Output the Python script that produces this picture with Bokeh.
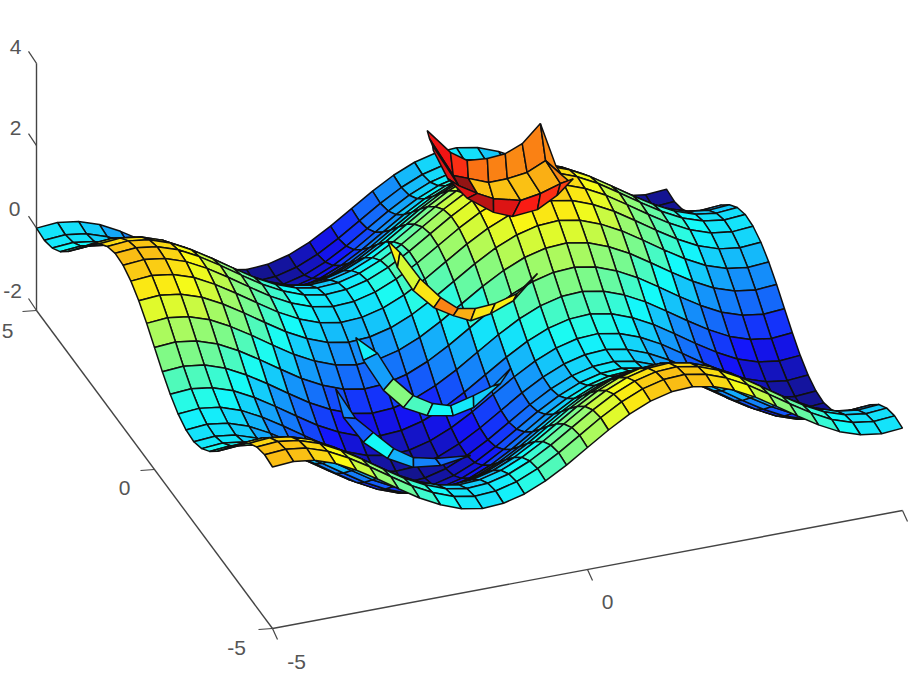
import numpy as np
from bokeh.plotting import figure
from bokeh.models import Range1d
from bokeh.core.properties import value
from bokeh.embed import file_html
from bokeh.resources import INLINE

# Height of the surface at each grid crossing, one row per y:
x_grid = [-5+k/3 for k in range(31)]
y_grid = [-5+k/3 for k in range(31)]
surface_z = [
[1.92,1.96,1.89,1.72,1.46,1.15,.82,.50,.24,.05,-.04,-.01,.12,.34,.63,.96,1.29,1.58,1.80,1.93,1.96,1.87,1.68,1.42,1.10,.77,.46,.20,.03,-.04,0],
[1.96,2.00,1.93,1.76,1.50,1.19,.86,.54,.28,.09,0,.03,.16,.38,.67,1.00,1.33,1.62,1.84,1.97,2.00,1.91,1.72,1.46,1.14,.81,.50,.24,.07,0,.04],
[1.89,1.93,1.86,1.69,1.43,1.12,.79,.47,.21,.02,-.07,-.04,.09,.31,.60,.93,1.26,1.55,1.77,1.90,1.93,1.84,1.65,1.39,1.07,.74,.43,.17,0,-.07,-.03],
[1.72,1.76,1.69,1.52,1.26,.95,.62,.30,.04,-.15,-.24,-.21,-.08,.14,.43,.76,1.09,1.38,1.60,1.73,1.76,1.67,1.48,1.22,.90,.57,.26,0,-.17,-.24,-.20],
[1.46,1.50,1.43,1.26,1.00,.69,.36,.04,-.22,-.41,-.50,-.47,-.34,-.12,.17,.50,.83,1.12,1.34,1.47,1.50,1.41,1.22,.96,.64,.31,0,-.26,-.43,-.50,-.46],
[1.15,1.19,1.12,.95,.69,.38,.05,-.27,-.53,-.72,-.81,-.78,-.65,-.43,-.14,.19,.52,.81,1.03,1.16,1.19,1.10,.91,.65,.33,0,-.31,-.57,-.74,-.81,-.77],
[.82,.86,.79,.62,.36,.05,-.28,-.60,-.86,-1.05,-1.14,-1.11,-.98,-.76,-.47,-.14,.19,.48,.70,.83,.86,.77,.58,.32,0,-.33,-.64,-.90,-1.07,-1.14,-1.10],
[.50,.54,.47,.30,.04,-.27,-.60,-.92,-1.18,-1.37,-1.46,-1.43,-1.30,-1.08,-.79,-.46,-.13,.16,.38,.51,.54,.45,.26,0,-.32,-.65,-.96,-1.22,-1.39,-1.46,-1.42],
[.24,.28,.21,.04,-.22,-.53,-.86,-1.18,-1.44,-1.63,-1.72,-1.69,-1.56,-1.34,-1.05,-.72,-.39,-.10,.12,.25,.28,.19,0,-.26,-.58,-.91,-1.22,-1.48,-1.65,-1.72,-1.68],
[.05,.09,.02,-.15,-.41,-.72,-1.05,-1.37,-1.63,-1.82,-1.91,-1.88,-1.75,-1.53,-1.24,-.91,-.58,-.29,-.07,.06,.09,0,-.19,-.45,-.77,-1.10,-1.41,-1.67,-1.84,-1.91,-1.87],
[-.04,0,-.07,-.24,-.50,-.81,-1.14,-1.46,-1.72,-1.91,-2.00,-1.97,-1.84,-1.62,-1.33,-1.00,-.67,-.38,-.16,-.03,0,-.09,-.28,-.54,-.86,-1.19,-1.50,-1.76,-1.93,-2.00,-1.96],
[-.01,.03,-.04,-.21,-.47,-.78,-1.11,-1.43,-1.69,-1.88,-1.97,-1.94,-1.81,-1.59,-1.30,-.97,-.64,-.35,-.13,0,.03,-.06,-.25,-.51,-.83,-1.16,-1.47,-1.73,-1.90,-1.97,-1.93],
[.12,.16,.09,-.08,-.34,-.65,-.98,-1.30,-1.56,-1.75,-1.84,-1.81,-1.68,-1.46,-1.17,-.84,-.51,-.22,0,.13,.16,.07,-.12,-.38,-.70,-1.03,-1.34,-1.60,-1.77,-1.84,-1.80],
[.34,.38,.31,.14,-.12,-.43,-.76,-1.08,-1.34,-1.53,-1.62,-1.59,-1.46,-1.24,-.95,-.62,-.29,0,.22,.35,.38,.29,.10,-.16,-.48,-.81,-1.12,-1.38,-1.55,-1.62,-1.58],
[.63,.67,.60,.43,.17,-.14,-.47,-.79,-1.05,-1.24,-1.33,-1.30,-1.17,-.95,-.66,-.33,0,.29,.51,.64,.67,.58,.39,.13,-.19,-.52,-.83,-1.09,-1.26,-1.33,-1.29],
[.96,1.00,.93,.76,.50,.19,-.14,-.46,-.72,-.91,-1.00,-.97,-.84,-.62,-.33,0,.33,.62,.84,.97,1.00,.91,.72,.46,.14,-.19,-.50,-.76,-.93,-1.00,-.96],
[1.29,1.33,1.26,1.09,.83,.52,.19,-.13,-.39,-.58,-.67,-.64,-.51,-.29,0,.33,.66,.95,1.17,1.30,1.33,1.24,1.05,.79,.47,.14,-.17,-.43,-.60,-.67,-.63],
[1.58,1.62,1.55,1.38,1.12,.81,.48,.16,-.10,-.29,-.38,-.35,-.22,0,.29,.62,.95,1.24,1.46,1.59,1.62,1.53,1.34,1.08,.76,.43,.12,-.14,-.31,-.38,-.34],
[1.80,1.84,1.77,1.60,1.34,1.03,.70,.38,.12,-.07,-.16,-.13,0,.22,.51,.84,1.17,1.46,1.68,1.81,1.84,1.75,1.56,1.30,.98,.65,.34,.08,-.09,-.16,-.12],
[1.93,1.97,1.90,1.73,1.47,1.16,.83,.51,.25,.06,-.03,0,.13,.35,.64,.97,1.30,1.59,1.81,1.94,1.97,1.88,1.69,1.43,1.11,.78,.47,.21,.04,-.03,.01],
[1.96,2.00,1.93,1.76,1.50,1.19,.86,.54,.28,.09,0,.03,.16,.38,.67,1.00,1.33,1.62,1.84,1.97,2.00,1.91,1.72,1.46,1.14,.81,.50,.24,.07,0,.04],
[1.87,1.91,1.84,1.67,1.41,1.10,.77,.45,.19,0,-.09,-.06,.07,.29,.58,.91,1.24,1.53,1.75,1.88,1.91,1.82,1.63,1.37,1.05,.72,.41,.15,-.02,-.09,-.05],
[1.68,1.72,1.65,1.48,1.22,.91,.58,.26,0,-.19,-.28,-.25,-.12,.10,.39,.72,1.05,1.34,1.56,1.69,1.72,1.63,1.44,1.18,.86,.53,.22,-.04,-.21,-.28,-.24],
[1.42,1.46,1.39,1.22,.96,.65,.32,0,-.26,-.45,-.54,-.51,-.38,-.16,.13,.46,.79,1.08,1.30,1.43,1.46,1.37,1.18,.92,.60,.27,-.04,-.30,-.47,-.54,-.50],
[1.10,1.14,1.07,.90,.64,.33,0,-.32,-.58,-.77,-.86,-.83,-.70,-.48,-.19,.14,.47,.76,.98,1.11,1.14,1.05,.86,.60,.28,-.05,-.36,-.62,-.79,-.86,-.82],
[.77,.81,.74,.57,.31,0,-.33,-.65,-.91,-1.10,-1.19,-1.16,-1.03,-.81,-.52,-.19,.14,.43,.65,.78,.81,.72,.53,.27,-.05,-.38,-.69,-.95,-1.12,-1.19,-1.15],
[.46,.50,.43,.26,0,-.31,-.64,-.96,-1.22,-1.41,-1.50,-1.47,-1.34,-1.12,-.83,-.50,-.17,.12,.34,.47,.50,.41,.22,-.04,-.36,-.69,-1.00,-1.26,-1.43,-1.50,-1.46],
[.20,.24,.17,0,-.26,-.57,-.90,-1.22,-1.48,-1.67,-1.76,-1.73,-1.60,-1.38,-1.09,-.76,-.43,-.14,.08,.21,.24,.15,-.04,-.30,-.62,-.95,-1.26,-1.52,-1.69,-1.76,-1.72],
[.03,.07,0,-.17,-.43,-.74,-1.07,-1.39,-1.65,-1.84,-1.93,-1.90,-1.77,-1.55,-1.26,-.93,-.60,-.31,-.09,.04,.07,-.02,-.21,-.47,-.79,-1.12,-1.43,-1.69,-1.86,-1.93,-1.89],
[-.04,0,-.07,-.24,-.50,-.81,-1.14,-1.46,-1.72,-1.91,-2.00,-1.97,-1.84,-1.62,-1.33,-1.00,-.67,-.38,-.16,-.03,0,-.09,-.28,-.54,-.86,-1.19,-1.50,-1.76,-1.93,-2.00,-1.96],
[0,.04,-.03,-.20,-.46,-.77,-1.10,-1.42,-1.68,-1.87,-1.96,-1.93,-1.80,-1.58,-1.29,-.96,-.63,-.34,-.12,.01,.04,-.05,-.24,-.50,-.82,-1.15,-1.46,-1.72,-1.89,-1.96,-1.92],
]

# The four crescents: small patches of surface, with their own height and cell colour values
cup_x = [[.43,.53,.68,.98,1.28,1.62,2.08,1.86],[.38,.33,.51,.75,1.05,1.39,1.77,1.85],[.35,.30,.48,.65,1.01,1.36,1.74,1.88],[.31,.22,.29,.51,.73,1.15,1.57,1.97]]
cup_y = [[2.94,2.22,1.91,1.86,1.90,2.09,2.55,1.31],[2.71,1.57,1.41,1.19,1.20,1.27,1.50,1.00],[2.50,1.26,.95,.72,.53,.62,.79,.83],[2.36,1.51,.86,.34,.13,.19,.48,.86]]
cup_c = [[3.14,2.92,2.49,2.32,2.27,2.32,2.27],[2.8,3.69,1.94,1.94,1.94,2.05,2.27],[3.25,3.25,3.47,3.25,3.03,2.92,2.8]]
cup_z = 2.4
yel_x = [[-.79,-.74,-.73,-.64,-.51,-.27,.06,.47,.96],[-.79,-.93,-.95,-.84,-.65,-.46,-.11,.34,.96]]
yel_y = [[1.36,.97,.14,-.49,-.88,-.97,-.93,-.77,-.32],[1.36,.57,-.15,-.73,-1.05,-1.28,-1.19,-.95,-.32]]
yel_c = [[1.67,1.4,1.72,2.38,2.05,1.72,1.67,1.4]]
yel_z = 1.3
blu_x = [[-1.64,-1.50,-1.54,-1.44,-1.25,-1.02,-.60,-.22,.20],[-1.64,-1.77,-1.80,-1.70,-1.45,-1.09,-.72,-.10,.20]]
blu_y = [[.44,-.11,-.89,-1.46,-1.78,-1.93,-1.77,-1.60,-1.21],[.44,-.23,-1.16,-1.74,-2.08,-2.22,-2.10,-1.58,-1.21]]
blu_c = [[.08,-.41,.85,.47,.14,.03,-.13,-.35]]
blu_z = -.1
low_x = [[-2.32,-2.35,-2.25,-2.13,-1.95,-1.65,-1.13],[-2.32,-2.51,-2.49,-2.32,-2.05,-1.65,-1.13]]
low_y = [[-.52,-1.45,-1.93,-2.48,-2.83,-2.97,-3.07],[-.52,-1.36,-2.15,-2.72,-3.10,-3.19,-3.07]]
low_c = [[-.63,-.9,.14,-.3,-.57,-.79]]
low_z = -.4

z_ticks = [-2,0,2,4]
y_ticks = [-5,0,5]
x_ticks = [-5,0,5]

def view(x,y,z):
    a=np.asarray(x)+5; b=5-np.asarray(y); zz=np.asarray(z)+2
    return 36+63*a+23.6*b, 310-11.8*a+31.8*b-41.2*zz

def jet(v):
    t=min(max((v+2.08)/5.9,0),1)
    r=min(max(min(4*t-1.5,-4*t+4.5),0),1); g=min(max(min(4*t-.5,-4*t+3.5),0),1); b=min(max(min(4*t+.5,-4*t+2.5),0),1)
    k=.08
    return "#%02x%02x%02x"%tuple(int((c*(1-k)+k)*255) if c<.5 else int(c*250) for c in (r,g,b))

p=figure(width=909,height=682,output_backend="svg",toolbar_location=None,x_range=Range1d(0,909),y_range=Range1d(682,0),min_border=0)
p.axis.visible=False; p.grid.visible=False; p.outline_line_color=None

def seg(a,b):
    sx,sy=view(*zip(a,b)); p.line(sx,sy,line_color="#444444",line_width=1.4)
seg((-5,5,-2),(-5,5,4)); seg((-5,5,-2),(-5,-5,-2)); seg((-5,-5,-2),(5,-5,-2))
for zv in z_ticks:
    sx,sy=view(-5,5,zv); p.line([sx,sx-8],[sy,sy-12],line_color="#444444",line_width=1.2)
for yv in y_ticks:
    sx,sy=view(-5,yv,-2); p.line([sx,sx-14],[sy,sy+1],line_color="#444444",line_width=1.2)
for xv in x_ticks:
    sx,sy=view(xv,-5,-2); p.line([sx,sx+5],[sy,sy+11],line_color="#444444",line_width=1.2)

lab=[("4",15,46),("2",15,127),("0",14,208),("-2",12,290),("5",7,330),("0",124,487),("-5",236,647),("-5",296,661),("0",607,601)]
p.text([l[1] for l in lab],[l[2] for l in lab],text=[l[0] for l in lab],text_font=value("Liberation Sans"),text_font_size="21px",text_color="#555555",text_align="center",text_baseline="middle")

Z=np.array(surface_z)
xp,yp,cp=[],[],[]
n=len(x_grid)
for j in range(n-2,-1,-1):
    for i in range(n-2,-1,-1):
        qx=[x_grid[i],x_grid[i+1],x_grid[i+1],x_grid[i]]; qy=[y_grid[j],y_grid[j],y_grid[j+1],y_grid[j+1]]
        qz=[Z[j,i],Z[j,i+1],Z[j+1,i+1],Z[j+1,i]]
        sx,sy=view(qx,qy,qz); xp.append(sx.tolist()); yp.append(sy.tolist()); cp.append(jet(float(np.mean(qz))))
def overlay(X,Y,C,zv):
    X=np.array(X);Y=np.array(Y)
    for r in range(len(C)):
        for k in range(len(C[r])):
            qx=[X[r,k],X[r,k+1],X[r+1,k+1],X[r+1,k]]; qy=[Y[r,k],Y[r,k+1],Y[r+1,k+1],Y[r+1,k]]
            sx,sy=view(qx,qy,[zv]*4); xp.append(sx.tolist()); yp.append(sy.tolist()); cp.append(jet(C[r][k]))
overlay(low_x,low_y,low_c,low_z); overlay(blu_x,blu_y,blu_c,blu_z); overlay(yel_x,yel_y,yel_c,yel_z); overlay(cup_x,cup_y,cup_c,cup_z)
p.patches(xp,yp,fill_color=cp,line_color="#101010",line_width=1.5)
open("out.html","w").write(file_html(p,INLINE))
